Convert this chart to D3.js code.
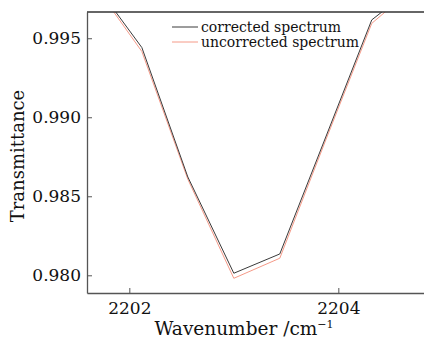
<!DOCTYPE html>
<html>
<head>
<meta charset="utf-8">
<script src="https://cdn.jsdelivr.net/npm/d3@7"></script>
<style>
  html, body { margin: 0; padding: 0; background: #fff; }
  svg { display: block; }
  text { font-family: "DejaVu Serif", serif; fill: #111; }
</style>
</head>
<body>
<svg id="chart" width="424" height="340"></svg>
<script>
// Sampled wavenumbers (cm^-1) around the absorption dip
const wavenumbers = [2201.68, 2202.12, 2202.56, 2203.00, 2203.44, 2203.88, 2204.32, 2204.76];
// Transmittance after correction
const corrected = [0.99837, 0.99441, 0.98622, 0.98013, 0.98135, 0.98875, 0.99616, 0.99844];
// Transmittance without correction
const uncorrected = [0.99825, 0.99416, 0.98608, 0.97981, 0.98108, 0.98856, 0.99594, 0.99842];
const xTicks = [2202, 2204];
const yTicks = [0.980, 0.985, 0.990, 0.995];
const seriesNames = ["corrected spectrum", "uncorrected spectrum"];
const seriesColors = ["#3a3a3a", "#f59a88"];

const svg = d3.select("#chart");
const margin = { left: 87, top: 12, right: 0, bottom: 47 };
const W = 424, H = 340;
const x0 = margin.left, x1 = W - margin.right, y0 = margin.top, y1 = H - margin.bottom;

const x = d3.scaleLinear().domain([2201.595, 2204.82]).range([x0, x1]);
const y = d3.scaleLinear().domain([0.97888, 0.99666]).range([y1, y0]);

svg.append("clipPath").attr("id", "plotClip")
  .append("rect").attr("x", x0).attr("y", y0).attr("width", x1 - x0).attr("height", y1 - y0);

const line = d3.line().x(d => x(d[0])).y(d => y(d[1]));
const series = [corrected, uncorrected];

// draw uncorrected first so the corrected trace sits on top
[1, 0].forEach(i => {
  svg.append("path")
    .datum(wavenumbers.map((w, k) => [w, series[i][k]]))
    .attr("clip-path", "url(#plotClip)")
    .attr("fill", "none")
    .attr("stroke", seriesColors[i])
    .attr("stroke-width", 1)
    .attr("d", line);
});

// Axes with inward ticks
const axisColor = "#555";
const xAxis = svg.append("g").attr("transform", `translate(0,${y1})`)
  .call(d3.axisBottom(x).tickValues(xTicks).tickFormat(d3.format("d")).tickSizeInner(-5).tickSizeOuter(0).tickPadding(9));
const yAxis = svg.append("g").attr("transform", `translate(${x0},0)`)
  .call(d3.axisLeft(y).tickValues(yTicks).tickFormat(d3.format(".3f")).tickSizeInner(-5).tickSizeOuter(0).tickPadding(6));

[xAxis, yAxis].forEach(g => {
  g.select(".domain").attr("stroke", axisColor).attr("stroke-width", 1.3);
  g.selectAll(".tick line").attr("stroke", axisColor).attr("stroke-width", 1);
  g.selectAll(".tick text").attr("font-family", "DejaVu Serif, serif").attr("font-size", 17).attr("fill", "#111");
});

// Top frame line
svg.append("line").attr("x1", x0).attr("x2", x1).attr("y1", y0).attr("y2", y0)
  .attr("stroke", "#333").attr("stroke-width", 1.3);

// Axis titles
const xt = svg.append("text").attr("x", 244).attr("y", 335).attr("text-anchor", "middle").attr("font-size", 18.5);
xt.append("tspan").text("Wavenumber /cm");
xt.append("tspan").attr("font-size", 11).attr("dy", -7).text("−1");

svg.append("text")
  .attr("transform", `translate(24,156) rotate(-90)`)
  .attr("text-anchor", "middle").attr("font-size", 18)
  .text("Transmittance");

// Legend
const legend = svg.append("g");
seriesNames.forEach((name, i) => {
  const ly = 27 + i * 15;
  legend.append("line").attr("x1", 172).attr("x2", 198).attr("y1", ly).attr("y2", ly)
    .attr("stroke", seriesColors[i]).attr("stroke-width", 1);
  legend.append("text").attr("x", 201).attr("y", ly + 4.5).attr("font-size", 14).text(name);
});
</script>
</body>
</html>
